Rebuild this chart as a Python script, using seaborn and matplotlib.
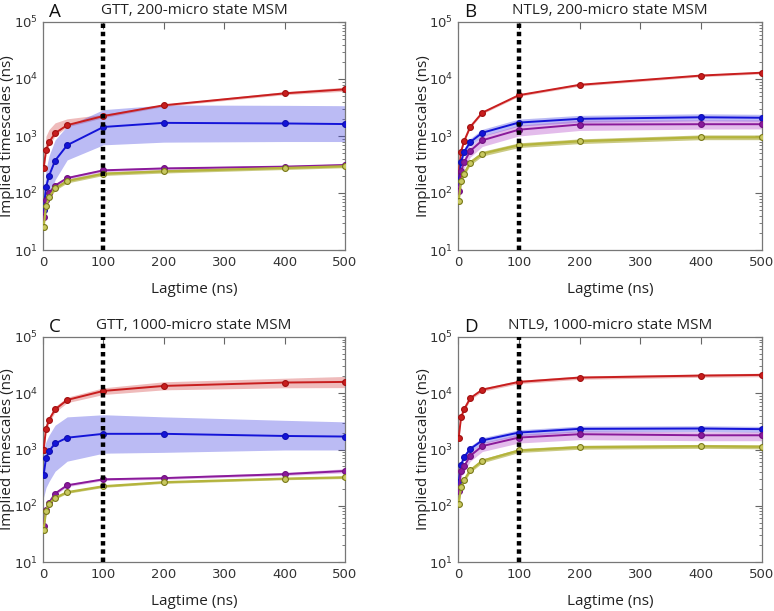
import numpy as np
import pandas as pd
import matplotlib
matplotlib.use("Agg")
import matplotlib.pyplot as plt
import seaborn as sns

# ---------------- data ----------------
lag = [1, 5, 10, 20, 40, 100, 200, 400, 500]
xticks = [0, 100, 200, 300, 400, 500]
yticks = [1e1, 1e2, 1e3, 1e4, 1e5]

titles = ["GTT, 200-micro state MSM", "NTL9, 200-micro state MSM",
          "GTT, 1000-micro state MSM", "NTL9, 1000-micro state MSM"]
letters = ["A", "B", "C", "D"]

# Panel A
A_red = [270, 560, 780, 1120, 1550, 2240, 3460, 5600, 6600]
A_red_lo = [240, 480, 680, 1000, 1450, 2100, 3300, 5300, 6100]
A_red_hi = [310, 1000, 1300, 1700, 2000, 2400, 3600, 6000, 7200]
A_blue = [51, 127, 200, 370, 690, 1440, 1700, 1660, 1620]
A_blue_lo = [34, 60, 85, 170, 380, 700, 780, 800, 800]
A_blue_hi = [80, 260, 450, 850, 1500, 2900, 3500, 3450, 3400]
A_purple = [38, 75, 100, 135, 183, 250, 270, 290, 310]
A_purple_lo = [35, 69, 93, 126, 172, 236, 256, 276, 296]
A_purple_hi = [41, 81, 107, 144, 194, 264, 284, 304, 324]
A_yellow = [25, 58, 84, 120, 162, 218, 240, 275, 295]
A_yellow_lo = [23, 53, 78, 111, 150, 203, 224, 258, 278]
A_yellow_hi = [27, 63, 90, 129, 174, 233, 256, 292, 312]

# Panel B
B_red = [210, 530, 810, 1440, 2570, 5200, 7900, 11500, 12900]
B_red_lo = [200, 505, 770, 1370, 2450, 4950, 7500, 10950, 12300]
B_red_hi = [220, 555, 850, 1510, 2700, 5450, 8300, 12050, 13500]
B_blue = [155, 355, 525, 780, 1140, 1720, 2000, 2130, 2090]
B_blue_lo = [135, 310, 455, 675, 990, 1490, 1740, 1850, 1820]
B_blue_hi = [178, 408, 605, 900, 1310, 1980, 2300, 2450, 2400]
B_purple = [107, 240, 345, 545, 840, 1290, 1590, 1610, 1610]
B_purple_lo = [84, 188, 270, 425, 655, 1000, 1250, 1320, 1330]
B_purple_hi = [128, 288, 414, 654, 1008, 1550, 1900, 1920, 1920]
B_yellow = [71, 161, 218, 340, 490, 690, 810, 950, 950]
B_yellow_lo = [64, 146, 198, 308, 445, 627, 736, 862, 862]
B_yellow_hi = [78, 177, 240, 374, 539, 759, 890, 1045, 1045]

# Panel C
C_red = [980, 2350, 3390, 5150, 7600, 11000, 13500, 15500, 15900]
C_red_lo = [880, 2100, 3000, 4600, 6800, 9500, 11500, 12500, 12600]
C_red_hi = [1100, 2600, 3800, 5800, 8500, 12500, 16000, 18500, 19900]
C_blue = [350, 700, 940, 1280, 1620, 1900, 1900, 1740, 1700]
C_blue_lo = [140, 210, 270, 410, 620, 860, 890, 980, 980]
C_blue_hi = [1000, 1380, 1800, 2700, 3800, 4150, 3800, 3300, 3100]
C_purple = [44, 83, 113, 165, 231, 295, 310, 365, 415]
C_purple_lo = [40, 77, 105, 155, 218, 280, 295, 345, 385]
C_purple_hi = [48, 89, 121, 175, 245, 312, 328, 390, 455]
C_yellow = [37, 81, 109, 138, 174, 222, 262, 303, 320]
C_yellow_lo = [34, 76, 103, 131, 166, 212, 250, 290, 305]
C_yellow_hi = [40, 86, 115, 145, 182, 232, 274, 316, 335]

# Panel D
D_red = [1570, 3720, 5170, 8150, 11600, 15900, 19000, 20600, 21200]
D_red_lo = [1460, 3460, 4810, 7580, 10800, 14800, 17700, 19200, 19700]
D_red_hi = [1680, 3980, 5530, 8720, 12400, 17000, 20300, 22000, 22700]
D_blue = [260, 535, 730, 1020, 1450, 2000, 2330, 2360, 2300]
D_blue_lo = [229, 470, 642, 898, 1276, 1760, 2050, 2077, 2024]
D_blue_hi = [291, 600, 818, 1142, 1624, 2240, 2610, 2643, 2576]
D_purple = [181, 410, 500, 770, 1150, 1630, 1870, 1790, 1790]
D_purple_lo = [145, 328, 400, 616, 920, 1304, 1496, 1432, 1432]
D_purple_hi = [208, 471, 575, 885, 1322, 1874, 2150, 2058, 2058]
D_yellow = [106, 213, 285, 425, 630, 960, 1100, 1140, 1120]
D_yellow_lo = [98, 196, 262, 391, 580, 883, 1012, 1049, 1030]
D_yellow_hi = [114, 230, 308, 459, 680, 1037, 1188, 1231, 1210]

panels = [
    [(A_red, A_red_lo, A_red_hi), (A_blue, A_blue_lo, A_blue_hi),
     (A_purple, A_purple_lo, A_purple_hi), (A_yellow, A_yellow_lo, A_yellow_hi)],
    [(B_red, B_red_lo, B_red_hi), (B_blue, B_blue_lo, B_blue_hi),
     (B_purple, B_purple_lo, B_purple_hi), (B_yellow, B_yellow_lo, B_yellow_hi)],
    [(C_red, C_red_lo, C_red_hi), (C_blue, C_blue_lo, C_blue_hi),
     (C_purple, C_purple_lo, C_purple_hi), (C_yellow, C_yellow_lo, C_yellow_hi)],
    [(D_red, D_red_lo, D_red_hi), (D_blue, D_blue_lo, D_blue_hi),
     (D_purple, D_purple_lo, D_purple_hi), (D_yellow, D_yellow_lo, D_yellow_hi)],
]

# ---------------- style ----------------
sns.set_style("white")
plt.rcParams["font.family"] = ["DejaVu Sans"]
plt.rcParams["mathtext.fontset"] = "dejavusans"

line_colors = ["#c81e1e", "#1414d8", "#8a1a9a", "#b4b43c"]
fill_colors = ["#d23c3c", "#3c3ce0", "#b040c8", "#a8a830"]
fill_alphas = [0.35, 0.35, 0.35, 0.6]
marker_face = ["#c81e1e", "#1414d8", "#8a1a9a", "#c8c860"]
marker_edge = ["#a01010", "#1010b0", "#701080", "#787818"]
line_widths = [1.4, 1.4, 1.4, 1.6]

W, H = 774, 611
fig = plt.figure(figsize=(W / 100, H / 100), dpi=100)

boxes = [(43, 22, 345, 250), (458, 22, 762, 250),
         (43, 337, 345, 562), (458, 337, 762, 562)]
ylabel_x = [-0.092, -0.090, -0.092, -0.090]

label_font = ["Open Sans", "DejaVu Sans"]

for i, (l, t, r, b) in enumerate(boxes):
    ax = fig.add_axes([l / W, 1 - b / H, (r - l) / W, (b - t) / H])
    for j, (vals, lo, hi) in enumerate(panels[i]):
        ax.fill_between(lag, lo, hi, color=fill_colors[j], alpha=fill_alphas[j],
                        linewidth=0)
        sns.lineplot(x=lag, y=vals, ax=ax, color=line_colors[j], lw=line_widths[j],
                     marker="o", markersize=4.2, markerfacecolor=marker_face[j],
                     markeredgecolor=marker_edge[j], markeredgewidth=0.8,
                     sort=False, estimator=None, zorder=3)
    ax.axvline(100, color="black", lw=3.2, ls=(0, (1, 0.85)), zorder=5)
    ax.set_yscale("log")
    ax.set_xlim(0, 500)
    ax.set_ylim(10, 1e5)
    ax.set_xticks(xticks)
    ax.set_yticks(yticks)
    ax.tick_params(which="both", direction="in", top=True, right=True,
                   colors="#666666", labelcolor="#333333", labelsize=9.5)
    ax.tick_params(which="major", length=5, width=0.8)
    ax.tick_params(which="minor", length=2.5, width=0.6)
    ax.tick_params(axis="x", pad=4)
    for sp in ax.spines.values():
        sp.set_color("#777777")
        sp.set_linewidth(0.9)
    ax.set_xlabel("Lagtime (ns)", fontsize=11, family=label_font,
                  color="#222222", labelpad=10)
    ax.set_ylabel("Implied timescales (ns)", fontsize=11, family=label_font,
                  color="#222222")
    ax.yaxis.set_label_coords(ylabel_x[i], 0.5)
    ax.set_title(titles[i], fontsize=11, family=label_font, color="#222222", pad=6)
    ax.text(0.02, 1.022, letters[i],
            transform=ax.transAxes, fontsize=13.5, family=label_font,
            color="#111111", ha="left", va="baseline")

fig.savefig("out.png", dpi=100)
